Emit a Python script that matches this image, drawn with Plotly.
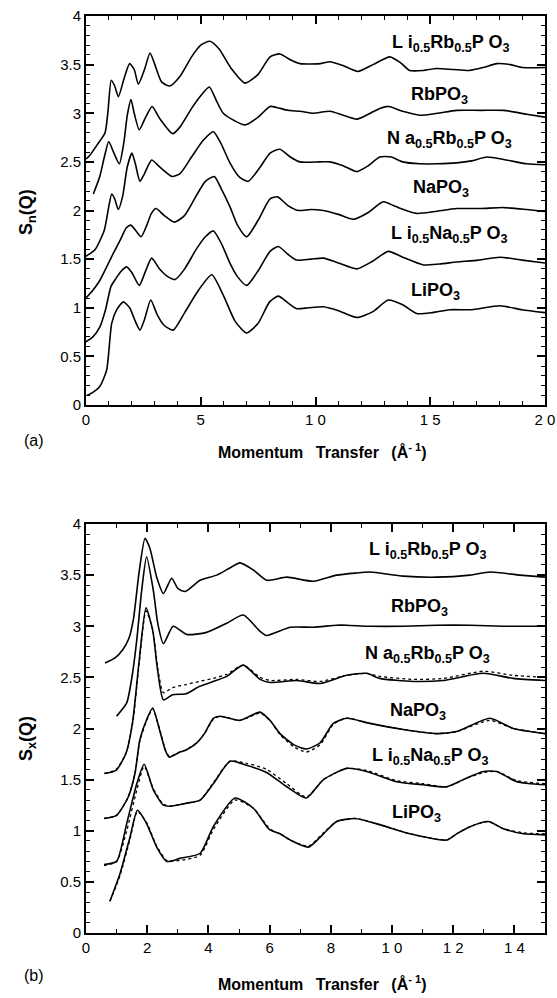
import plotly.graph_objects as go

# ---------------- Panel (a): S_n(Q) ----------------
labels = ["L i<sub>0.5</sub>Rb<sub>0.5</sub>P O<sub>3</sub>", "RbPO<sub>3</sub>",
          "N a<sub>0.5</sub>Rb<sub>0.5</sub>P O<sub>3</sub>", "NaPO<sub>3</sub>",
          "L i<sub>0.5</sub>Na<sub>0.5</sub>P O<sub>3</sub>", "LiPO<sub>3</sub>"]

a_LiRb_x = [0.0, 0.14, 0.5, 0.83, 0.95, 1.1, 1.25, 1.41, 1.65, 1.9, 2.1, 2.28, 2.55, 2.79, 3.0, 3.3, 3.65, 4.1, 4.6, 5.0, 5.4, 5.8, 6.3, 6.93, 7.5, 8.02, 8.45, 8.9, 9.33, 10.2, 10.63, 11.2, 11.85, 12.5, 13.24, 13.7, 14.1, 14.7, 15.28, 16.0, 16.7, 17.3, 17.9, 18.5, 19.04, 20.0]
a_LiRb_y = [2.53, 2.56, 2.68, 2.80, 3.00, 3.34, 3.28, 3.17, 3.35, 3.51, 3.45, 3.30, 3.45, 3.62, 3.50, 3.32, 3.28, 3.38, 3.58, 3.70, 3.74, 3.66, 3.47, 3.31, 3.40, 3.58, 3.61, 3.55, 3.51, 3.51, 3.53, 3.49, 3.43, 3.50, 3.58, 3.52, 3.44, 3.44, 3.46, 3.45, 3.44, 3.47, 3.51, 3.50, 3.47, 3.47]

a_Rb_x = [0.32, 0.6, 0.8, 0.99, 1.2, 1.45, 1.65, 1.8, 1.96, 2.1, 2.32, 2.6, 2.88, 3.2, 3.78, 4.1, 4.6, 5.0, 5.37, 5.7, 5.98, 6.5, 6.93, 7.5, 8.02, 8.31, 8.8, 9.33, 9.9, 10.63, 11.2, 11.8, 12.3, 12.8, 13.2, 13.8, 14.55, 15.3, 16.15, 17.2, 18.2, 19.2, 20.0]
a_Rb_y = [2.17, 2.35, 2.55, 2.71, 2.60, 2.48, 2.70, 2.98, 3.14, 3.00, 2.83, 2.96, 3.07, 2.95, 2.79, 2.86, 3.05, 3.18, 3.27, 3.12, 3.00, 2.92, 2.88, 2.96, 3.07, 3.06, 3.03, 3.02, 3.00, 3.02, 2.98, 2.94, 2.99, 3.05, 3.07, 3.02, 2.98, 3.00, 3.03, 3.03, 3.03, 2.99, 2.96]

a_NaRb_x = [0.0, 0.4, 0.8, 1.0, 1.12, 1.25, 1.41, 1.6, 1.8, 2.0, 2.15, 2.35, 2.55, 2.86, 3.2, 3.75, 4.1, 4.6, 5.1, 5.55, 5.9, 6.27, 6.7, 7.07, 7.6, 8.02, 8.45, 8.9, 9.32, 10.2, 10.63, 11.2, 11.8, 12.3, 12.8, 13.3, 13.8, 14.55, 15.3, 16.15, 16.8, 17.46, 18.3, 19.2, 20.0]
a_NaRb_y = [1.53, 1.60, 1.80, 2.05, 2.17, 2.12, 2.01, 2.15, 2.45, 2.59, 2.48, 2.30, 2.38, 2.52, 2.45, 2.35, 2.38, 2.55, 2.72, 2.81, 2.68, 2.49, 2.34, 2.30, 2.45, 2.59, 2.63, 2.55, 2.50, 2.50, 2.50, 2.46, 2.40, 2.46, 2.55, 2.55, 2.50, 2.48, 2.48, 2.49, 2.51, 2.55, 2.52, 2.48, 2.47]

a_Na_x = [0.0, 0.3, 0.6, 0.9, 1.19, 1.5, 1.75, 1.95, 2.15, 2.4, 2.65, 2.85, 3.05, 3.4, 3.85, 4.3, 4.8, 5.2, 5.59, 5.9, 6.27, 6.6, 7.0, 7.5, 8.02, 8.35, 8.8, 9.25, 9.8, 10.34, 11.0, 11.65, 12.3, 12.95, 13.5, 14.41, 15.2, 16.15, 17.2, 18.2, 19.2, 20.0]
a_Na_y = [1.10, 1.18, 1.28, 1.42, 1.56, 1.70, 1.82, 1.85, 1.80, 1.73, 1.85, 1.97, 2.02, 1.95, 1.88, 1.95, 2.15, 2.30, 2.35, 2.22, 2.04, 1.85, 1.73, 1.90, 2.12, 2.14, 2.05, 2.00, 2.01, 2.00, 1.96, 1.91, 1.98, 2.09, 2.04, 1.97, 1.99, 2.02, 2.02, 2.03, 2.01, 1.99]

a_LiNa_x = [0.0, 0.3, 0.6, 0.85, 1.09, 1.3, 1.55, 1.77, 2.0, 2.32, 2.6, 2.86, 3.2, 3.5, 3.88, 4.3, 4.8, 5.2, 5.55, 5.9, 6.27, 6.6, 7.0, 7.5, 8.02, 8.38, 8.8, 9.18, 9.8, 10.34, 11.0, 11.8, 12.5, 13.17, 13.8, 14.7, 15.4, 16.15, 17.1, 18.04, 19.0, 20.0]
a_LiNa_y = [0.65, 0.70, 0.80, 0.98, 1.22, 1.30, 1.38, 1.42, 1.36, 1.23, 1.38, 1.51, 1.40, 1.33, 1.29, 1.40, 1.60, 1.73, 1.79, 1.66, 1.46, 1.32, 1.23, 1.38, 1.58, 1.63, 1.55, 1.49, 1.50, 1.51, 1.46, 1.40, 1.48, 1.58, 1.52, 1.44, 1.45, 1.47, 1.49, 1.52, 1.49, 1.46]

a_Li_x = [0.05, 0.3, 0.6, 0.9, 1.12, 1.34, 1.63, 1.9, 2.15, 2.35, 2.55, 2.82, 3.1, 3.4, 3.8, 4.3, 4.9, 5.48, 6.0, 6.5, 7.0, 7.5, 8.0, 8.38, 8.8, 9.18, 9.7, 10.34, 11.0, 11.8, 12.5, 13.17, 13.8, 14.41, 15.1, 15.86, 16.8, 18.04, 19.0, 20.0]
a_Li_y = [0.10, 0.13, 0.19, 0.36, 0.84, 0.98, 1.06, 1.00, 0.86, 0.77, 0.88, 1.08, 0.93, 0.82, 0.77, 0.95, 1.18, 1.34, 1.12, 0.86, 0.74, 0.84, 1.06, 1.12, 1.05, 0.99, 1.00, 1.01, 0.97, 0.90, 0.96, 1.08, 1.03, 0.94, 0.95, 0.98, 0.98, 1.02, 0.98, 0.95]

# ---------------- Panel (b): S_x(Q) ----------------
b_LiRb_x = [0.62, 0.95, 1.2, 1.4, 1.55, 1.74, 1.93, 2.09, 2.31, 2.53, 2.80, 3.0, 3.24, 3.73, 4.27, 4.7, 5.03, 5.47, 5.9, 6.56, 7.43, 8.19, 8.8, 9.28, 10.37, 11.46, 12.55, 13.2, 14.18, 15.0]
b_LiRb_y = [2.64, 2.69, 2.77, 2.88, 3.07, 3.54, 3.86, 3.76, 3.48, 3.32, 3.47, 3.37, 3.34, 3.45, 3.50, 3.57, 3.62, 3.55, 3.45, 3.48, 3.44, 3.50, 3.52, 3.53, 3.49, 3.48, 3.50, 3.53, 3.50, 3.48]

b_Rb_x = [1.0, 1.33, 1.5, 1.66, 1.82, 1.98, 2.2, 2.35, 2.53, 2.85, 3.29, 3.94, 4.6, 5.14, 5.69, 5.9, 6.67, 7.43, 8.19, 8.52, 9.28, 10.37, 11.46, 12.55, 13.64, 15.0]
b_Rb_y = [2.12, 2.25, 2.50, 2.87, 3.35, 3.68, 3.35, 3.02, 2.83, 3.00, 2.92, 2.94, 3.03, 3.11, 2.95, 2.91, 2.99, 2.99, 3.01, 3.01, 3.00, 3.00, 3.01, 3.01, 3.00, 3.00]

b_NaRb_x = [0.6, 0.98, 1.31, 1.53, 1.74, 1.96, 2.18, 2.34, 2.53, 2.83, 3.27, 3.70, 4.16, 4.6, 5.14, 5.69, 6.01, 6.89, 7.65, 8.52, 9.17, 9.6, 10.7, 11.68, 12.98, 13.96, 15.0]
b_NaRb_y = [1.56, 1.59, 1.76, 2.08, 2.67, 3.18, 2.96, 2.57, 2.28, 2.33, 2.34, 2.41, 2.46, 2.51, 2.62, 2.48, 2.45, 2.47, 2.44, 2.52, 2.54, 2.49, 2.46, 2.47, 2.54, 2.49, 2.47]
b_NaRb_fit = [1.56, 1.60, 1.76, 2.06, 2.64, 3.15, 2.97, 2.60, 2.35, 2.40, 2.43, 2.46, 2.49, 2.53, 2.62, 2.50, 2.47, 2.48, 2.46, 2.52, 2.54, 2.51, 2.48, 2.49, 2.56, 2.52, 2.50]

b_Na_x = [0.59, 1.0, 1.38, 1.6, 1.76, 2.0, 2.18, 2.4, 2.6, 2.72, 3.07, 3.27, 3.62, 3.87, 4.16, 4.38, 5.03, 5.69, 6.01, 6.34, 6.8, 7.2, 7.65, 8.08, 8.52, 9.28, 10.37, 11.46, 12.11, 13.2, 13.96, 15.0]
b_Na_y = [1.12, 1.15, 1.33, 1.56, 1.89, 2.10, 2.20, 1.99, 1.78, 1.72, 1.77, 1.79, 1.86, 1.95, 2.10, 2.12, 2.08, 2.16, 2.08, 1.95, 1.84, 1.80, 1.86, 2.05, 2.10, 2.05, 1.99, 1.95, 1.97, 2.10, 2.00, 1.95]
b_Na_fit = [1.12, 1.15, 1.33, 1.56, 1.88, 2.09, 2.19, 2.00, 1.79, 1.73, 1.77, 1.79, 1.86, 1.95, 2.09, 2.12, 2.08, 2.15, 2.08, 1.94, 1.82, 1.77, 1.84, 2.04, 2.10, 2.05, 1.99, 1.95, 1.97, 2.08, 2.00, 1.95]

b_LiNa_x = [0.59, 1.0, 1.33, 1.66, 1.90, 2.2, 2.53, 2.75, 3.29, 3.73, 4.16, 4.71, 5.25, 5.9, 6.56, 7.2, 7.76, 8.52, 9.17, 10.15, 11.02, 11.79, 12.33, 12.98, 13.42, 14.08, 15.0]
b_LiNa_y = [0.67, 0.70, 1.07, 1.46, 1.65, 1.40, 1.25, 1.24, 1.27, 1.30, 1.46, 1.68, 1.64, 1.57, 1.43, 1.32, 1.50, 1.61, 1.58, 1.48, 1.45, 1.43, 1.50, 1.58, 1.58, 1.48, 1.45]
b_LiNa_fit = [0.66, 0.70, 1.00, 1.40, 1.63, 1.41, 1.26, 1.24, 1.27, 1.30, 1.47, 1.68, 1.66, 1.60, 1.46, 1.33, 1.50, 1.61, 1.59, 1.49, 1.46, 1.43, 1.50, 1.57, 1.58, 1.49, 1.46]

b_Li_x = [0.78, 1.11, 1.44, 1.68, 1.98, 2.31, 2.64, 3.07, 3.73, 4.16, 4.87, 5.47, 6.0, 6.34, 6.67, 7.27, 7.76, 8.19, 8.79, 9.6, 10.59, 11.79, 12.11, 12.55, 13.15, 13.64, 14.29, 15.0]
b_Li_y = [0.31, 0.58, 0.94, 1.20, 1.07, 0.84, 0.70, 0.73, 0.78, 1.04, 1.32, 1.22, 1.01, 0.97, 0.91, 0.84, 0.97, 1.09, 1.12, 1.06, 0.97, 0.91, 0.97, 1.04, 1.09, 1.02, 0.97, 0.96]
b_Li_fit = [0.31, 0.56, 0.92, 1.19, 1.08, 0.85, 0.71, 0.71, 0.76, 1.01, 1.30, 1.22, 1.02, 0.97, 0.91, 0.85, 0.98, 1.09, 1.12, 1.06, 0.97, 0.91, 0.97, 1.04, 1.09, 1.02, 0.98, 0.97]

a_ticktext = ["0", "5", "1 0", "1 5", "2 0"]
a_tickvals = [0, 5, 10, 15, 20]
b_ticktext = ["0", "2", "4", "6", "8", "1 0", "1 2", "1 4"]
b_tickvals = [0, 2, 4, 6, 8, 10, 12, 14]
y_tickvals = [0, 0.5, 1, 1.5, 2, 2.5, 3, 3.5, 4]
y_ticktext = ["0", "0.5", "1", "1.5", "2", "2.5", "3", "3.5", "4"]

# label anchor positions (data coords)
a_lab_pos = [(15.9, 3.72), (15.4, 3.18), (15.85, 2.73), (15.45, 2.23), (15.8, 1.75), (15.25, 1.17)]
b_lab_pos = [(11.15, 3.74), (10.9, 3.18), (11.15, 2.72), (10.85, 2.17), (11.25, 1.73), (10.8, 1.17)]

W, H = 557, 998
L, R = 86, 545
A_T, A_B = 16, 405
B_T, B_B = 524, 933

fig = go.Figure()
line = dict(color="black", width=1.6, shape="spline", smoothing=0.6)
dot = dict(color="black", width=1.3, dash="dot", shape="spline", smoothing=0.6)

for xs, ys in [(a_LiRb_x, a_LiRb_y), (a_Rb_x, a_Rb_y), (a_NaRb_x, a_NaRb_y),
               (a_Na_x, a_Na_y), (a_LiNa_x, a_LiNa_y), (a_Li_x, a_Li_y)]:
    fig.add_trace(go.Scatter(x=xs, y=ys, mode="lines", line=line, xaxis="x", yaxis="y",
                             showlegend=False, hoverinfo="skip"))

for xs, ys in [(b_NaRb_x, b_NaRb_fit), (b_Na_x, b_Na_fit), (b_LiNa_x, b_LiNa_fit), (b_Li_x, b_Li_fit)]:
    fig.add_trace(go.Scatter(x=xs, y=ys, mode="lines", line=dot, xaxis="x2", yaxis="y2",
                             showlegend=False, hoverinfo="skip"))

for xs, ys in [(b_LiRb_x, b_LiRb_y), (b_Rb_x, b_Rb_y), (b_NaRb_x, b_NaRb_y),
               (b_Na_x, b_Na_y), (b_LiNa_x, b_LiNa_y), (b_Li_x, b_Li_y)]:
    fig.add_trace(go.Scatter(x=xs, y=ys, mode="lines", line=line, xaxis="x2", yaxis="y2",
                             showlegend=False, hoverinfo="skip"))

FONT = "Liberation Sans, Arial, Helvetica, sans-serif"
tickfont = dict(family=FONT, size=15, color="black")


def axis(minor_dtick, **kw):
    d = dict(showline=True, linecolor="black", linewidth=2, mirror="allticks",
             ticks="inside", ticklen=8, tickwidth=1.5, tickcolor="black",
             minor=dict(ticks="inside", ticklen=4, tickwidth=1.2, tickcolor="black",
                        tickmode="linear", tick0=0, dtick=minor_dtick, showgrid=False),
             showgrid=False, zeroline=False, tickfont=tickfont, automargin=False,
             tickmode="array", fixedrange=True)
    d.update(kw)
    return d


xa_dom = [L / W, R / W]
ya_dom = [1 - A_B / H, 1 - A_T / H]
yb_dom = [1 - B_B / H, 1 - B_T / H]

fig.update_layout(
    template="none",
    width=W, height=H, margin=dict(l=0, r=0, t=0, b=0, autoexpand=False),
    paper_bgcolor="white", plot_bgcolor="white",
    xaxis=axis(1, domain=xa_dom, range=[0, 20], anchor="y", tickvals=a_tickvals, ticktext=a_ticktext),
    yaxis=axis(0.1, domain=ya_dom, range=[0, 4], anchor="x", tickvals=y_tickvals, ticktext=y_ticktext),
    xaxis2=axis(1, domain=xa_dom, range=[0, 15], anchor="y2", tickvals=b_tickvals, ticktext=b_ticktext),
    yaxis2=axis(0.1, domain=yb_dom, range=[0, 4], anchor="x2", tickvals=y_tickvals, ticktext=y_ticktext),
)

labfont = dict(family=FONT, size=18, color="black")
anns = []
for txt, (x, y) in zip(labels, a_lab_pos):
    anns.append(dict(x=x, y=y, xref="x", yref="y", text="<b>" + txt + "</b>", showarrow=False,
                     font=labfont, xanchor="center", yanchor="middle"))
for txt, (x, y) in zip(labels, b_lab_pos):
    anns.append(dict(x=x, y=y, xref="x2", yref="y2", text="<b>" + txt + "</b>", showarrow=False,
                     font=labfont, xanchor="center", yanchor="middle"))

titlefont = dict(family=FONT, size=16, color="black")
xt = "<b>Momentum\u2002 Transfer\u2002 (Å<sup>- 1</sup>)</b>"
anns.append(dict(x=322 / W, y=1 - 451 / H, xref="paper", yref="paper", text=xt,
                 showarrow=False, font=titlefont, xanchor="center", yanchor="middle"))
anns.append(dict(x=322 / W, y=1 - 983 / H, xref="paper", yref="paper", text=xt,
                 showarrow=False, font=titlefont, xanchor="center", yanchor="middle"))
yfont = dict(family=FONT, size=18, color="black")
anns.append(dict(x=27 / W, y=1 - 212 / H, xref="paper", yref="paper", text="<b>S<sub>n</sub>(Q)</b>",
                 textangle=-90, showarrow=False, font=yfont, xanchor="center", yanchor="middle"))
anns.append(dict(x=27 / W, y=1 - 738 / H, xref="paper", yref="paper", text="<b>S<sub>x</sub>(Q)</b>",
                 textangle=-90, showarrow=False, font=yfont, xanchor="center", yanchor="middle"))
pfont = dict(family=FONT, size=16, color="black")
anns.append(dict(x=34 / W, y=1 - 440 / H, xref="paper", yref="paper", text="(a)", showarrow=False,
                 font=pfont, xanchor="center", yanchor="middle"))
anns.append(dict(x=34 / W, y=1 - 975 / H, xref="paper", yref="paper", text="(b)", showarrow=False,
                 font=pfont, xanchor="center", yanchor="middle"))
fig.update_layout(annotations=anns)

post = ("document.body.style.margin='0';document.body.style.padding='0';"
        "document.body.style.overflow='hidden';")

fig.write_html("out.html", config={"displayModeBar": False}, post_script=post)
